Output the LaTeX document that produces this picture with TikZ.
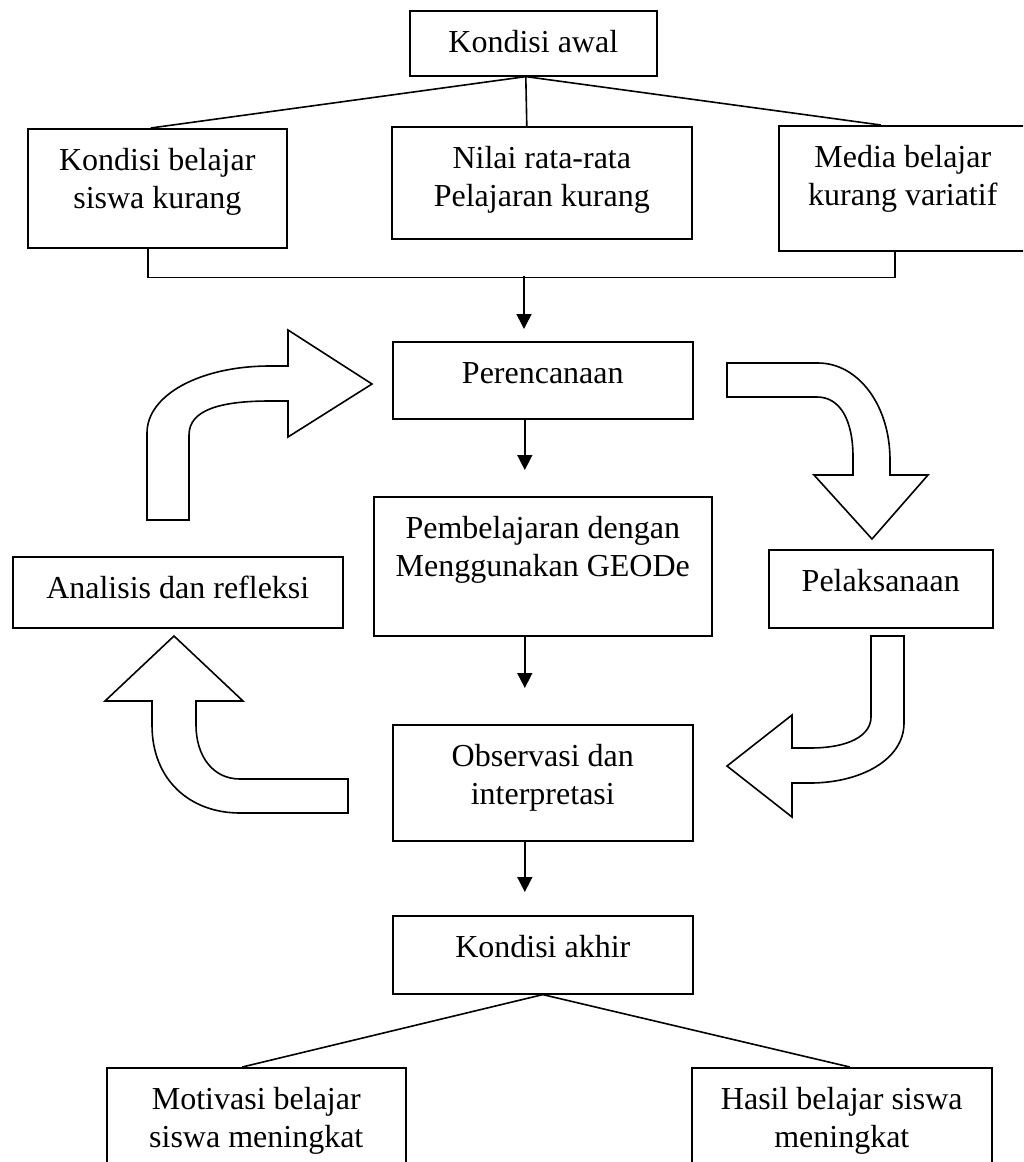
\documentclass[tikz,border=0pt]{standalone}
\usepackage{fontspec}
\setmainfont{Liberation Serif}
\usetikzlibrary{arrows.meta}

% teks kotak: rata atas, rata tengah
\newcommand{\isi}[3]{\parbox[t][#2][t]{#1}{\centering\rule{0pt}{21pt}#3}}

\tikzset{
  kotak/.style={draw, line width=0.8pt, inner sep=0pt, anchor=north west,
    font=\fontsize{16}{19}\selectfont},
  garis/.style={line width=0.8pt},
  panah/.style={line width=0.8pt, -{Triangle[length=7.5pt,width=7.5pt]}},
  blok/.style={draw, line width=0.8pt, fill=white, line join=miter}
}

\begin{document}
\begin{tikzpicture}[x=0.5pt, y=-0.5pt]

	\clip (0,0) rectangle (1023,1162);

	% kondisi awal
	\node [kotak] (awal) at (409,10) {\isi{123.5pt}{32.5pt}{Kondisi awal}};
	\node [kotak] (kb) at (27,128) {\isi{129.5pt}{59.5pt}{Kondisi belajar\\siswa kurang}};
	\node [kotak] (nr) at (391,126) {\isi{150pt}{56pt}{Nilai rata-rata\\Pelajaran kurang}};
	\node [kotak] (mb) at (778,125) {\isi{124pt}{62.5pt}{Media belajar\\kurang variatif}};

	\draw [garis] ([xshift=-3.75pt]awal.south) -- ([xshift=-3.25pt]kb.north);
	\draw [garis] ([xshift=-3.75pt]awal.south) -- ([xshift=-7.5pt]nr.north);
	\draw [garis] ([xshift=-3.75pt]awal.south) -- ([xshift=-11pt]mb.north);

	\draw [garis] ([xshift=-4.75pt]kb.south) -- ++(0,29) -| ([xshift=-4pt]mb.south);
	\coordinate (gabung) at (524,276);

	% siklus
	\node [kotak] (ren) at (392,341) {\isi{150pt}{38.5pt}{Perencanaan}};
	\node [kotak] (pem) at (373,496) {\isi{169pt}{69.5pt}{Pembelajaran dengan\\Menggunakan GEODe}};
	\node [kotak] (pel) at (768,549) {\isi{112pt}{39pt}{Pelaksanaan}};
	\node [kotak] (ana) at (12,556) {\isi{165pt}{35.5pt}{Analisis dan refleksi}};
	\node [kotak] (obs) at (392,724) {\isi{150pt}{58pt}{Observasi dan\\interpretasi}};
	\node [kotak] (akh) at (392,915) {\isi{150pt}{39pt}{Kondisi akhir}};

	\draw [panah, shorten >=6pt] (gabung) -- (gabung |- ren.north);
	\draw [panah, shorten >=13pt] ([xshift=-9pt]ren.south) -- ([xshift=-9pt]pem.north);
	\draw [panah, shorten >=18pt] ([xshift=-9pt]pem.south) -- ([xshift=-9pt]obs.north);
	\draw [panah, shorten >=11.5pt] ([xshift=-9pt]obs.south) -- ([xshift=-9pt]akh.north);

	% panah lengkung
	\draw [blok] (727,363) -- (818,363) .. controls (858,363) and (890,405) .. (890,460)
		-- (890,475) -- (928,475) -- (872,539) -- (814,475) -- (853,475) -- (853,457)
		.. controls (853,420) and (840,397) .. (817,397) -- (727,397) -- cycle;
	\draw [blok] (871,636) -- (904,636) -- (904,723) .. controls (904,760) and (860,783) .. (810,783)
		-- (792,783) -- (792,817) -- (727,766) -- (792,715) -- (792,748) -- (810,748)
		.. controls (850,748) and (871,735) .. (871,717) -- cycle;
	\draw [blok] (348,779) -- (240,779) .. controls (212,779) and (196,755) .. (196,725)
		-- (196,701) -- (243,701) -- (174,636) -- (105,701) -- (152,701) -- (152,725)
		.. controls (152,780) and (190,813) .. (240,813) -- (348,813) -- cycle;
	\draw [blok] (147,520) -- (147,433) .. controls (147,395) and (200,366) .. (270,366)
		-- (288,366) -- (288,330) -- (372,384) -- (288,437) -- (288,401) -- (270,401)
		.. controls (220,401) and (189,410) .. (189,435) -- (189,520) -- cycle;

	% kondisi akhir
	\node [kotak] (mot) at (106,1067) {\isi{149.5pt}{60pt}{Motivasi belajar\\siswa meningkat}};
	\node [kotak] (has) at (691,1067) {\isi{150pt}{60pt}{Hasil belajar siswa\\meningkat}};

	\draw [garis] (akh.south) -- ([xshift=-7pt]mot.north);
	\draw [garis] (akh.south) -- ([xshift=4pt]has.north);

\end{tikzpicture}
\end{document}
